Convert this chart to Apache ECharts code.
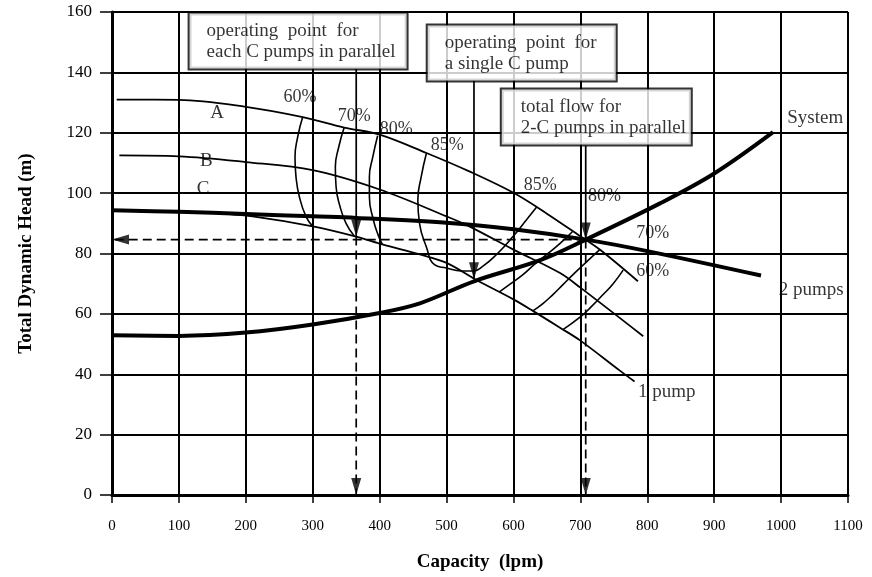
<!DOCTYPE html>
<html>
<head>
<meta charset="utf-8">
<script src="https://cdn.jsdelivr.net/npm/echarts@6/dist/echarts.min.js"></script>
<style>
  html, body { margin: 0; padding: 0; background: #fff; }
  #chart { width: 872px; height: 577px; }
</style>
</head>
<body>
<div id="chart"></div>
<script>
// Head-capacity curves: capacity in lpm, total dynamic head in m
const curveA_q = [7, 100, 200, 285, 347, 400, 470, 534, 600, 650, 700, 729, 786];
const curveA_h = [131, 130.9, 128.6, 125.2, 121.7, 119.4, 113.3, 107.2, 100.1, 93.2, 85.7, 81.3, 70.8];

const curveB_q = [11, 100, 200, 300, 400, 500, 534, 600, 669, 700, 794];
const curveB_h = [112.5, 112.2, 110.3, 107.6, 101.2, 92.3, 89, 81.3, 73.6, 68.7, 52.6];

// single C pump
const curveC_q = [0, 100, 150, 210, 300, 365, 404, 460, 500, 544, 600, 629, 669, 699, 759, 781];
const curveC_h = [94.3, 93.8, 93.5, 92.3, 89, 85.6, 83, 79.7, 76.9, 71.3, 64.8, 61, 55.5, 51.3, 41.2, 37.6];

// two C pumps in parallel
const twoPumps_q = [0, 100, 200, 300, 365, 500, 600, 708, 800, 970];
const twoPumps_h = [94.3, 93.8, 93.1, 92.3, 91.8, 90.2, 88, 84.6, 80.8, 72.7];

// system curve
const system_q = [0, 100, 200, 300, 400, 460, 541, 640, 708, 819, 900, 988];
const system_h = [52.9, 52.7, 53.8, 56.5, 60.3, 63.5, 70.8, 77.8, 84.6, 96.6, 106.5, 120.2];

// efficiency contours
const eff60L_q = [285, 277.4, 273.5, 275, 280, 290, 300];
const eff60L_h = [125.2, 118.5, 111.9, 105.4, 98.8, 92.2, 89];
const eff70L_q = [347, 338.8, 333.8, 334.9, 340.9, 349.8, 362];
const eff70L_h = [121.7, 115.2, 108.7, 102.1, 95.5, 90, 85.8];
const eff80L_q = [397, 389.7, 384.7, 384.7, 390.7, 398, 404];
const eff80L_h = [119, 111.9, 105.4, 98.8, 91.1, 86, 83];
const eff85_q = [470, 462.1, 457.1, 459.6, 469.6, 482, 500, 522, 540, 554.4, 574.4, 599.3, 619.2, 635];
const eff85_h = [113.3, 105.4, 97.7, 90, 82.3, 76.3, 75.2, 74.2, 74.2, 75.8, 79.6, 85.6, 91.1, 95.5];
const eff80R_q = [688, 668, 649.3, 631, 614.2, 596, 579];
const eff80R_h = [87.2, 83, 79.6, 76.3, 73, 70, 67.3];
const eff70R_q = [729, 708, 689, 674, 659, 644, 629];
const eff70R_h = [81.3, 77, 73, 69.7, 66.4, 63.4, 61];
const eff60R_q = [764, 749, 734, 716, 699, 674];
const eff60R_h = [74.5, 70, 66.4, 62.3, 58.8, 54.8];

// operating points
const opEach = [365, 85.6];    // each C pump in parallel
const opSingle = [541, 71.5];  // a single C pump
const opTotal = [708, 84.6];   // total flow of the two pumps

// axis ranges
const xRange = [0, 1100, 100];
const yRange = [0, 160, 20];

// curve and contour captions [capacity, head, text]
const curveLabels = [
  [157, 126.6, 'A'], [141, 110.7, 'B'], [136, 101.2, 'C'],
  [1051, 125, 'System'], [1045, 67.8, '2 pumps'], [829, 34, '1 pump']
];
const effLabels = [
  [281, 131.6, '60%'], [362, 125.3, '70%'], [425, 121, '80%'], [501, 116, '85%'],
  [640, 102.5, '85%'], [736, 98.8, '80%'], [808, 86.6, '70%'], [808, 74, '60%']
];

// callout boxes: top-left anchor [capacity, head], bottom edge head, text, width
const callouts = [
  { at: [116.7, 159.3], bottom: 141.2, target: opEach,
    text: 'operating  point  for\neach C pumps in parallel', w: 200, pl: 17 },
  { at: [472.6, 155.4], bottom: 137.2, target: opSingle,
    text: 'operating  point  for\na single C pump', w: 171, pl: 17 },
  { at: [583.3, 134.2], bottom: 115.7, target: opTotal,
    text: 'total flow for\n2-C pumps in parallel', w: 170, pl: 19 }
];

const pairs = (q, h) => q.map((v, i) => [v, h[i]]);
const SERIF = '"Liberation Serif", "DejaVu Serif", serif';
const BLACK = '#000';
const HEAD_W = 10, HEAD_L = 17;

function curve(q, h, width, smooth) {
  return {
    type: 'line', data: pairs(q, h), symbol: 'none', showSymbol: false,
    smooth: smooth === undefined ? 0.35 : smooth, silent: true, z: 3,
    lineStyle: { color: BLACK, width: width }
  };
}
function segment(a, b, dashed) {
  return {
    type: 'line', data: [a, b], symbol: 'none', showSymbol: false, silent: true, z: 4,
    lineStyle: { color: BLACK, width: 1.7, type: dashed ? [9, 5] : 'solid' }
  };
}

const series = [
  curve(curveA_q, curveA_h, 1.8),
  curve(curveB_q, curveB_h, 1.8),
  curve(curveC_q, curveC_h, 1.8),
  curve(twoPumps_q, twoPumps_h, 4),
  curve(system_q, system_h, 4),
  curve(eff60L_q, eff60L_h, 1.6, 0.5),
  curve(eff70L_q, eff70L_h, 1.6, 0.5),
  curve(eff80L_q, eff80L_h, 1.6, 0.5),
  curve(eff85_q, eff85_h, 1.6, 0.5),
  curve(eff80R_q, eff80R_h, 1.6, 0.5),
  curve(eff70R_q, eff70R_h, 1.6, 0.5),
  curve(eff60R_q, eff60R_h, 1.6, 0.5),
  // dashed read-off lines
  segment(opTotal, [0, opTotal[1]], true),
  segment(opEach, [opEach[0], 0], true),
  segment(opTotal, [opTotal[0], 0], true)
];

// callout leaders
callouts.forEach(c => series.push(segment([c.target[0], c.bottom], c.target, false)));

// arrowheads, tip placed on the point
function head(point, dir) {
  const left = dir === 'left';
  return {
    value: point,
    symbolRotate: left ? 90 : 180,
    symbolOffset: left ? [HEAD_L / 2, 0] : [0, -HEAD_L / 2]
  };
}
const heads = [
  head([0, opTotal[1]], 'left'),
  head([opEach[0], 0], 'down'),
  head([opTotal[0], 0], 'down'),
  head(opEach, 'down'),
  head(opSingle, 'down'),
  head(opTotal, 'down')
];
series.push({
  type: 'scatter', data: heads, symbol: 'triangle', symbolSize: [HEAD_W, HEAD_L],
  silent: true, z: 6, itemStyle: { color: BLACK }
});

function textSeries(list, size) {
  return {
    type: 'scatter', data: list, symbolSize: 1, silent: true, z: 7,
    itemStyle: { color: 'rgba(0,0,0,0)' },
    label: {
      show: true, position: 'inside', formatter: (p) => p.data[2],
      color: BLACK, fontFamily: SERIF, fontSize: size, textBorderWidth: 0
    }
  };
}
series.push(textSeries(curveLabels, 19));
series.push(textSeries(effLabels, 18));

// callout boxes
callouts.forEach(c => series.push({
  type: 'scatter', data: [[c.at[0], c.at[1], c.text]], symbolSize: 1, silent: true, z: 8,
  itemStyle: { color: 'rgba(0,0,0,0)' },
  label: {
    show: true, position: [0, 0], align: 'left', verticalAlign: 'top',
    formatter: (p) => p.data[2], color: BLACK, fontFamily: SERIF, fontSize: 19,
    lineHeight: 21, width: c.w, padding: [7, 0, 6, c.pl], textBorderWidth: 0,
    backgroundColor: '#fff', borderColor: BLACK, borderWidth: 2
  }
}));

const chart = echarts.init(document.getElementById('chart'), null, { renderer: 'canvas' });
chart.setOption({
  animation: false,
  backgroundColor: '#fff',
  grid: { left: 112, right: 24, top: 12, bottom: 81, containLabel: false },
  xAxis: {
    type: 'value', min: xRange[0], max: xRange[1], interval: xRange[2],
    name: 'Capacity  (lpm)', nameLocation: 'middle', nameGap: 58,
    nameTextStyle: { fontFamily: SERIF, fontWeight: 'bold', fontSize: 19, color: BLACK },
    axisLine: { show: true, onZero: false, lineStyle: { color: BLACK, width: 3 } },
    axisTick: { show: true, length: 8, lineStyle: { color: BLACK, width: 1.5 } },
    axisLabel: { color: BLACK, fontFamily: SERIF, fontSize: 15, margin: 24, formatter: (v) => String(v) },
    splitLine: { show: true, lineStyle: { color: BLACK, width: 2 } }
  },
  yAxis: {
    type: 'value', min: yRange[0], max: yRange[1], interval: yRange[2],
    name: 'Total Dynamic Head (m)', nameLocation: 'middle', nameGap: 76,
    nameTextStyle: { fontFamily: SERIF, fontWeight: 'bold', fontSize: 19, color: BLACK },
    axisLine: { show: true, onZero: false, lineStyle: { color: BLACK, width: 3 } },
    axisTick: { show: true, length: 12, lineStyle: { color: BLACK, width: 1.5 } },
    axisLabel: { color: BLACK, fontFamily: SERIF, fontSize: 17, margin: 20, formatter: (v) => String(v) },
    splitLine: { show: true, lineStyle: { color: BLACK, width: 2 } }
  },
  series: series
});
</script>
</body>
</html>
